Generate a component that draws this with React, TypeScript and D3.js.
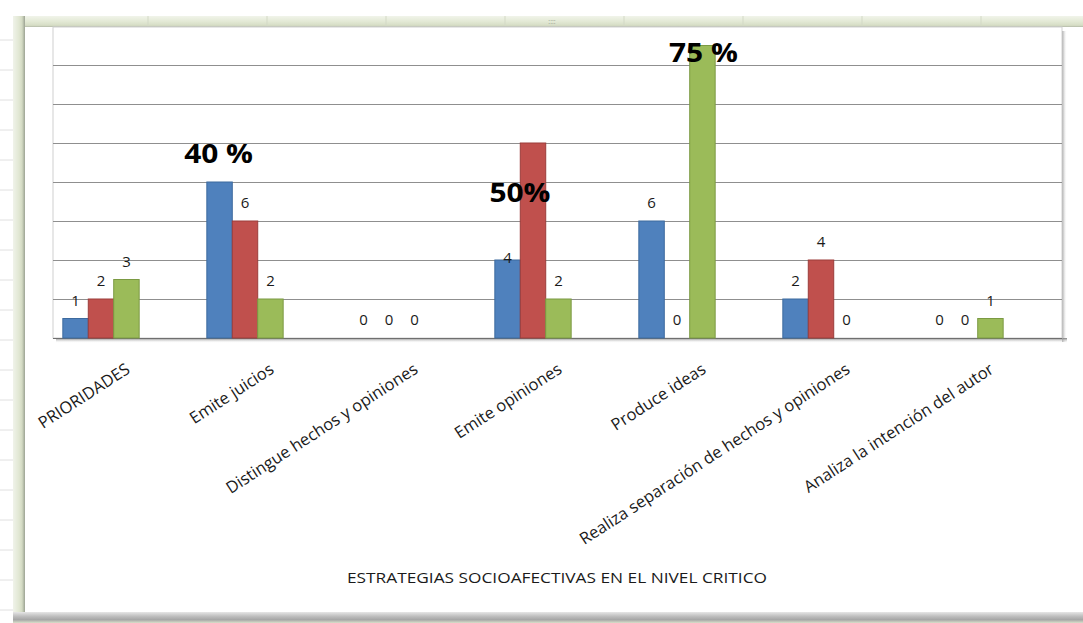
import React from "react";
import * as d3 from "d3";

const categories = [
  "PRIORIDADES",
  "Emite juicios",
  "Distingue hechos y opiniones",
  "Emite opiniones",
  "Produce ideas",
  "Realiza separación de hechos y opiniones",
  "Analiza la intención del autor",
];
const seriesKeys = ["Serie1", "Serie2", "Serie3"];
const serie1Values = [1, 8, 0, 4, 6, 2, 0];
const serie2Values = [2, 6, 0, 10, 0, 4, 0];
const serie3Values = [3, 2, 0, 2, 15, 0, 1];
const serie1Labels = ["1", "40 %", "0", "4", "6", "2", "0"];
const serie2Labels = ["2", "6", "0", "50%", "0", "4", "0"];
const serie3Labels = ["3", "2", "0", "2", "75 %", "0", "1"];
const yTicks = [2, 4, 6, 8, 10, 12, 14];
const axisTitle = "ESTRATEGIAS SOCIOAFECTIVAS EN EL NIVEL CRITICO";

const W = 1083;
const H = 623;
const colors = ["#4f81bd", "#c0504d", "#9bbb59"];
const strokes = ["#3d6a9e", "#9c3d3a", "#7b9a43"];

// style-only overrides for the hand-placed labels (center offset from bar top)
const labelStyle: Record<string, { size: number; bold: boolean; dx: number; dy: number }> = {
  "1|0": { size: 26, bold: true, dx: -1, dy: -28 },
  "3|0": { size: 15, bold: false, dx: 0, dy: -2 },
  "3|1": { size: 26, bold: true, dx: -13, dy: 50 },
  "4|2": { size: 26, bold: true, dx: 1, dy: 7 },
};

export default function App() {
  const values = [serie1Values, serie2Values, serie3Values];
  const labels = [serie1Labels, serie2Labels, serie3Labels];

  const plot = { left: 53, right: 1062, top: 27, bottom: 338 };
  const x = d3
    .scaleBand<string>()
    .domain(categories)
    .range([29, 1037])
    .paddingInner(0.47)
    .paddingOuter(0.235);
  const xs = d3.scaleBand<string>().domain(seriesKeys).range([0, x.bandwidth()]);
  const y = d3.scaleLinear().domain([0, 16]).range([338, 26]);

  const font = "'Open Sans', 'DejaVu Sans', sans-serif";

  const rowMarks = d3.range(0, 20).map((i) => 40 + i * 30);
  const colMarks = d3.range(0, 9).map((i) => 148 + i * 119);

  return (
    <svg
      width={W}
      height={H}
      style={{ position: "absolute", left: 0, top: 0, background: "#fff" }}
      fontFamily={font}
    >
      <defs>
        <linearGradient id="topbar" x1="0" y1="0" x2="0" y2="1">
          <stop offset="0" stopColor="#f1f4ea" />
          <stop offset="0.5" stopColor="#e3e9d5" />
          <stop offset="0.85" stopColor="#d6ddc5" />
          <stop offset="1" stopColor="#b3b9a7" />
        </linearGradient>
        <linearGradient id="leftbar" x1="0" y1="0" x2="1" y2="0">
          <stop offset="0" stopColor="#f0f3ea" />
          <stop offset="0.5" stopColor="#e1e7d3" />
          <stop offset="0.75" stopColor="#d3dac3" />
          <stop offset="1" stopColor="#9ca393" />
        </linearGradient>
        <linearGradient id="botbar" x1="0" y1="0" x2="0" y2="1">
          <stop offset="0" stopColor="#e6e6e6" />
          <stop offset="0.4" stopColor="#bdbdbd" />
          <stop offset="0.7" stopColor="#a6a6a6" />
          <stop offset="1" stopColor="#d8dfca" />
        </linearGradient>
        <linearGradient id="shadowB" x1="0" y1="0" x2="0" y2="1">
          <stop offset="0" stopColor="#7d7d7d" />
          <stop offset="1" stopColor="#ffffff" stopOpacity="0" />
        </linearGradient>
        <linearGradient id="shadowR" x1="0" y1="0" x2="1" y2="0">
          <stop offset="0" stopColor="#a0a0a0" />
          <stop offset="1" stopColor="#ffffff" stopOpacity="0" />
        </linearGradient>
      </defs>

      {/* spreadsheet remnants */}
      {rowMarks.map((r) => (
        <line key={"r" + r} x1={0} x2={13} y1={r} y2={r} stroke="#e0e0e0" strokeWidth={1} />
      ))}
      {/* chart window frame */}
      <rect x={13} y={16} width={W - 13} height={11} fill="url(#topbar)" />
      {colMarks.map((c) => (
        <line key={"c" + c} x1={c} x2={c} y1={16} y2={26} stroke="#d3d9c6" strokeWidth={1} />
      ))}
      <text x={552} y={24} fontSize={7} fill="#9aa08e" textAnchor="middle">
        ::::
      </text>
      <rect x={13} y={16} width={12} height={H - 16} fill="url(#leftbar)" />
      <rect x={25} y={27} width={W - 25} height={585} fill="#ffffff" />
      <rect x={13} y={612} width={W - 13} height={11} fill="url(#botbar)" />

      {/* plot area */}
      <rect
        x={plot.right}
        y={plot.top + 4}
        width={5}
        height={plot.bottom - plot.top}
        fill="url(#shadowR)"
      />
      <rect x={plot.left + 3} y={plot.bottom} width={plot.right - plot.left + 2} height={5} fill="url(#shadowB)" />
      <rect
        x={plot.left}
        y={plot.top}
        width={plot.right - plot.left}
        height={plot.bottom - plot.top}
        fill="#ffffff"
        stroke="#d0d0d0"
        strokeWidth={1}
      />
      {yTicks.map((t) => (
        <line
          key={"g" + t}
          x1={plot.left}
          x2={plot.right}
          y1={Math.round(y(t)) + 0.5}
          y2={Math.round(y(t)) + 0.5}
          stroke="#8f8f8f"
          strokeWidth={1}
        />
      ))}
      <line x1={plot.left} x2={plot.right} y1={plot.bottom + 0.5} y2={plot.bottom + 0.5} stroke="#6f6f6f" />

      {/* bars */}
      {categories.map((cat, ci) => (
        <g key={cat} transform={`translate(${x(cat)},0)`}>
          {seriesKeys.map((s, si) => {
            const v = values[si][ci];
            if (v <= 0) return null;
            return (
              <rect
                key={s}
                x={xs(s)}
                y={y(v)}
                width={xs.bandwidth()}
                height={y(0) - y(v)}
                fill={colors[si]}
                stroke={strokes[si]}
                strokeWidth={1}
              />
            );
          })}
        </g>
      ))}

      {/* data labels */}
      {categories.map((cat, ci) =>
        seriesKeys.map((s, si) => {
          const v = values[si][ci];
          const st = labelStyle[ci + "|" + si] || { size: 15, bold: false, dx: 0, dy: -18 };
          const cx = (x(cat) as number) + (xs(s) as number) + xs.bandwidth() / 2 + st.dx;
          const cy = y(v) + st.dy;
          const sx = st.bold ? 1.15 : 1;
          return (
            <text
              key={cat + s}
              transform={`translate(${cx},${cy}) scale(${sx},1)`}
              dy="0.36em"
              textAnchor="middle"
              fontSize={st.size}
              fontWeight={st.bold ? 700 : 400}
              fill={st.bold ? "#000" : "#1a1a1a"}
            >
              {labels[si][ci]}
            </text>
          );
        })
      )}

      {/* category labels */}
      {categories.map((cat) => {
        const cx = (x(cat) as number) + x.bandwidth() / 2 + 30;
        return (
          <text
            key={"l" + cat}
            transform={`translate(${cx},372) rotate(-33)`}
            textAnchor="end"
            fontSize={16.5}
            fill="#1a1a1a"
          >
            {cat}
          </text>
        );
      })}

      <text
        x={557}
        y={583}
        textAnchor="middle"
        fontSize={14}
        fill="#1a1a1a"
        textLength={420}
        lengthAdjust="spacingAndGlyphs"
      >
        {axisTitle}
      </text>
    </svg>
  );
}
